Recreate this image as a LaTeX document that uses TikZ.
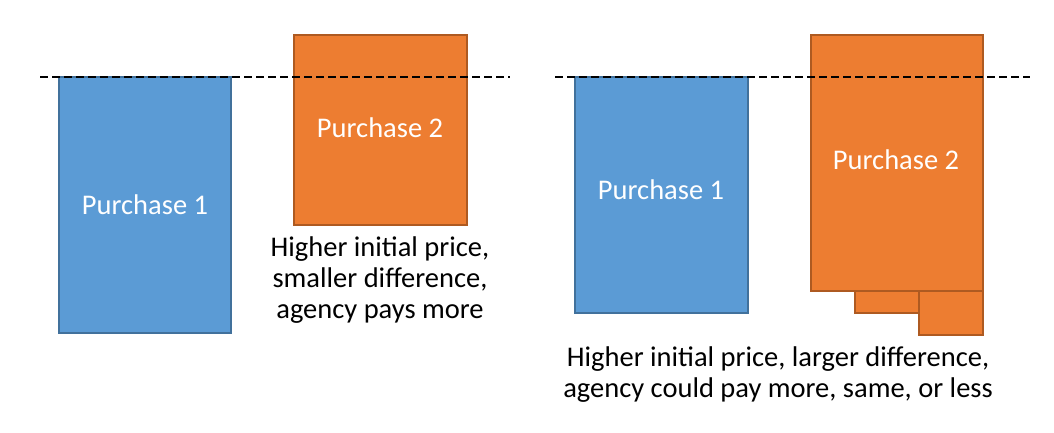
\documentclass[tikz,border=0pt]{standalone}
\usepackage{fontspec}
\setmainfont{Carlito}
\definecolor{bfill}{HTML}{5B9BD5}
\definecolor{bline}{HTML}{41719C}
\definecolor{ofill}{HTML}{ED7D31}
\definecolor{oline}{HTML}{AE5A21}
\tikzset{
  bluebox/.style={draw=bline,fill=bfill,line width=1.5pt},
  orangebox/.style={draw=oline,fill=ofill,line width=1.5pt},
  boxlabel/.style={text=white,font=\fontsize{28.5}{31}\selectfont},
  caption/.style={text=black,font=\fontsize{28.5}{31}\selectfont,align=center},
  refline/.style={black,line width=1.6pt,dash pattern=on 8pt off 4pt}
}
\begin{document}
\begin{tikzpicture}[x=1pt,y=-1pt]
\useasboundingbox (0,0) rectangle (1054,432);
% left panel
\draw[bluebox] (59,77) rectangle (231,333);
\draw[orangebox] (294,35) rectangle (467,225);
\coordinate (l1) at (40,77);
\coordinate (l2) at (510,77);
\draw[refline] (l1) -- (l2);
\node[boxlabel] (p1a) at (145,205) {Purchase 1};
\node[boxlabel] (p2a) at (380,128) {Purchase 2};
\node[caption] (capa) at (380,280) {Higher initial price,\\smaller difference,\\agency pays more};
% right panel
\draw[bluebox] (575,77) rectangle (748,313);
\draw[orangebox] (855,291) rectangle (919,313);
\draw[orangebox] (919,291) rectangle (983,335);
\draw[orangebox] (811,35) rectangle (983,291);
\coordinate (r1) at (555,77);
\coordinate (r2) at (1030,77);
\draw[refline] (r1) -- (r2);
\node[boxlabel] (p1b) at (661,190) {Purchase 1};
\node[boxlabel] (p2b) at (896,160) {Purchase 2};
\node[caption] (capb) at (778,375) {Higher initial price, larger difference,\\agency could pay more, same, or less};
\end{tikzpicture}
\end{document}
